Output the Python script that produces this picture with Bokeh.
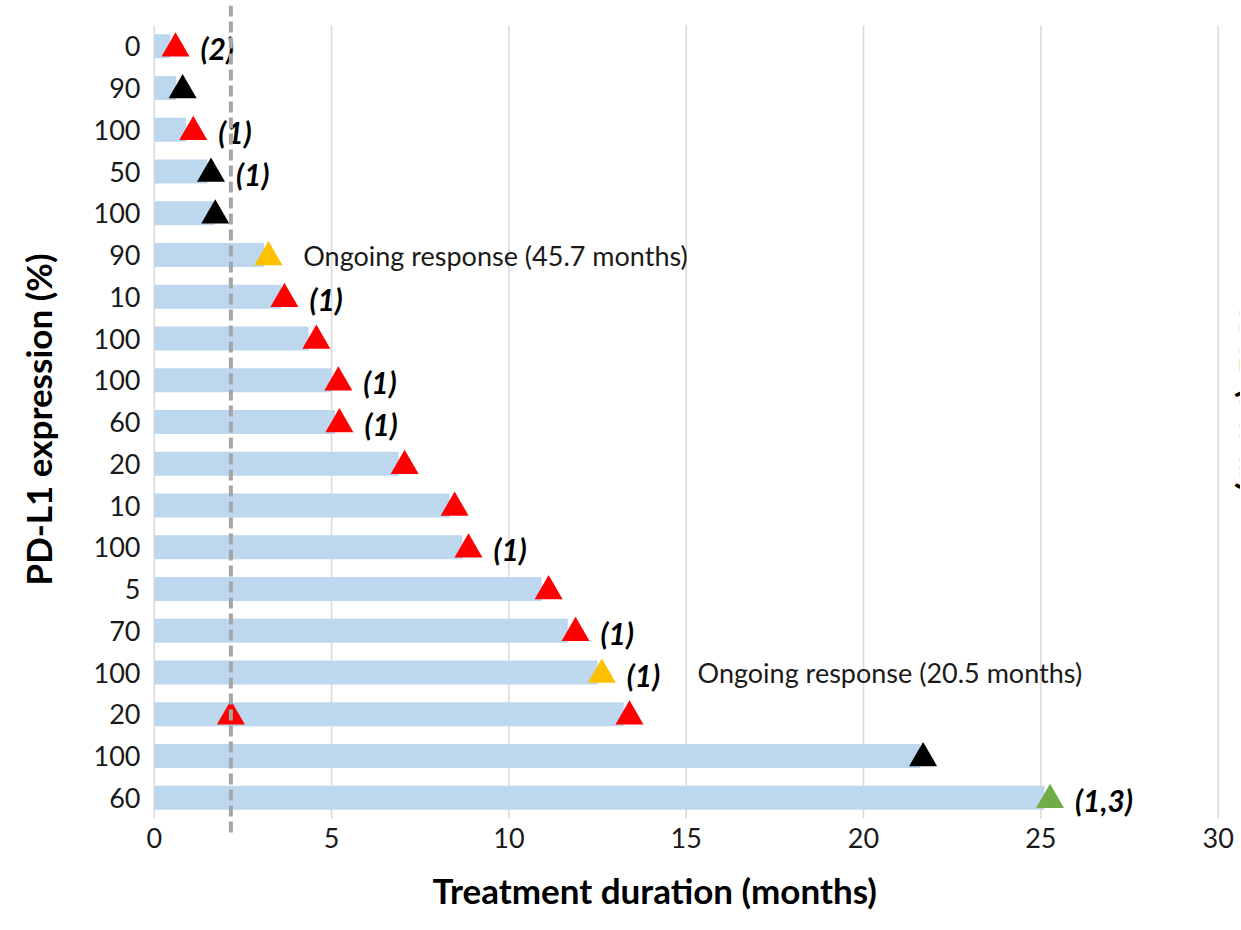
from bokeh.plotting import figure
from bokeh.models import Range1d, FixedTicker, Span, Title, ColumnDataSource
from bokeh.transform import dodge
from bokeh.core.properties import value
from bokeh.embed import file_html
from bokeh.resources import INLINE

# ---------------- data ----------------
pdl1_labels = ["0", "90", "100", "50", "100", "90", "10", "100", "100", "60",
               "20", "10", "100", "5", "70", "100", "20", "100", "60"]
durations = [0.45, 0.62, 0.9, 1.5, 1.7, 3.1, 3.58, 4.35, 5.0, 5.1,
             6.89, 8.33, 8.69, 10.92, 11.66, 12.5, 13.24, 21.6, 25.1]

event_rows = [0, 1, 2, 3, 4, 5, 6, 7, 8, 9, 10, 11, 12, 13, 14, 15, 16, 16, 17, 18]
event_months = [0.6, 0.8, 1.1, 1.6, 1.72, 3.22, 3.67, 4.57, 5.19, 5.22,
                7.06, 8.47, 8.86, 11.12, 11.88, 12.62, 13.4, 2.16, 21.68, 25.26]
event_colors = ["#FF0000", "#000000", "#FF0000", "#000000", "#000000", "#FFC000",
                "#FF0000", "#FF0000", "#FF0000", "#FF0000", "#FF0000", "#FF0000",
                "#FF0000", "#FF0000", "#FF0000", "#FFC000", "#FF0000", "#FF0000",
                "#000000", "#70AD47"]

note_rows = [0, 2, 3, 6, 8, 9, 12, 14, 15, 18]
note_texts = ["(2)", "(1)", "(1)", "(1)", "(1)", "(1)", "(1)", "(1)", "(1)", "(1,3)"]
note_months = [0.6, 1.1, 1.6, 3.67, 5.19, 5.22, 8.86, 11.88, 12.62, 25.26]

ongoing_rows = [5, 15]
ongoing_texts = ["Ongoing response (45.7 months)", "Ongoing response (20.5 months)"]
ongoing_months = [4.2, 15.32]

cutoff_month = 2.16
x_ticks = [0, 5, 10, 15, 20, 25, 30]

x_title = "Treatment duration (months)"
y_title = "PD-L1 expression (%)"
right_title = "TMB (MMb)"
right_title_pos = (31.0, 8.41)   # secondary-axis title, mostly beyond the right edge

rows = list(range(len(pdl1_labels)))

FONT = "Lato"
W, H = 1240, 928
FL, FT, FB = 152, 5, 833   # frame edges in page pixels

p = figure(width=W, height=H, output_backend="svg", toolbar_location=None,
           x_range=Range1d(-0.05, 30.63), y_range=Range1d(18.857, -0.979),
           min_border_left=FL, min_border_right=0, min_border_top=FT,
           min_border_bottom=H - FB)
p.outline_line_color = None
p.xgrid.visible = False
p.ygrid.visible = False
p.background_fill_color = "white"

# vertical gridlines spanning the category rows only
p.segment(x0=x_ticks, x1=x_ticks, y0=[-0.5] * len(x_ticks), y1=[18.5] * len(x_ticks),
          line_color="#D9D9D9", line_width=1.5)

# bars
bar_src = ColumnDataSource(dict(y=rows, right=durations))
p.hbar(y="y", left=0, right="right", height=0.575, source=bar_src,
       fill_color="#BDD7EE", line_color=None)

# event markers
ev_src = ColumnDataSource(dict(x=event_months, y=event_rows, c=event_colors))
p.scatter(x="x", y=dodge("y", 0.05, range=p.y_range), source=ev_src, marker="triangle",
          size=28, fill_color="c", line_color=None)

# cutoff line
p.add_layout(Span(location=cutoff_month, dimension="height", line_color="#A6A6A6",
                  line_width=4, line_dash="11 5"))

# bold italic notes
nt_src = ColumnDataSource(dict(x=note_months, y=note_rows, t=note_texts))
p.text(x="x", y="y", text="t", source=nt_src, x_offset=25, y_offset=2,
       text_font=value(FONT), text_font_style="bold italic", text_font_size="30px",
       text_align="left", text_baseline="middle", text_color="black")

og_src = ColumnDataSource(dict(x=ongoing_months, y=ongoing_rows, t=ongoing_texts))
p.text(x="x", y="y", text="t", source=og_src,
       text_font=value(FONT), text_font_size="27px",
       text_align="left", text_baseline="middle", text_color="#1a1a1a")

# partially visible secondary-axis title at the right edge (y range is inverted)
p.text(x=[right_title_pos[0]], y=[right_title_pos[1]], text=[right_title], angle=-1.5708,
       text_font=value(FONT), text_font_style="bold", text_font_size="35px",
       text_align="center", text_baseline="alphabetic", text_color="black")

# axes
p.xaxis.ticker = FixedTicker(ticks=x_ticks)
p.xaxis.axis_line_color = None
p.xaxis.major_tick_line_color = None
p.xaxis.minor_tick_line_color = None
p.xaxis.major_label_text_font = FONT
p.xaxis.major_label_text_font_size = "27px"
p.xaxis.major_label_text_color = "#1a1a1a"
p.xaxis.major_label_standoff = -12

p.yaxis.ticker = FixedTicker(ticks=rows)
p.yaxis.major_label_overrides = {i: lab for i, lab in enumerate(pdl1_labels)}
p.yaxis.axis_line_color = None
p.yaxis.major_tick_line_color = None
p.yaxis.minor_tick_line_color = None
p.yaxis.major_label_text_font = FONT
p.yaxis.major_label_text_font_size = "27px"
p.yaxis.major_label_text_color = "#1a1a1a"
p.yaxis.major_label_standoff = 6
p.yaxis.axis_label = y_title
p.yaxis.axis_label_text_font = FONT
p.yaxis.axis_label_text_font_style = "bold"
p.yaxis.axis_label_text_font_size = "35px"
p.yaxis.axis_label_text_color = "black"
p.yaxis.axis_label_standoff = 32

# x-axis title, placed left of the frame centre like the original
p.add_layout(Title(text=x_title, align="left", offset=280, standoff=33,
                   text_font=FONT, text_font_style="bold", text_font_size="35px",
                   text_color="black"), "below")

open("out.html", "w").write(file_html(p, INLINE))
